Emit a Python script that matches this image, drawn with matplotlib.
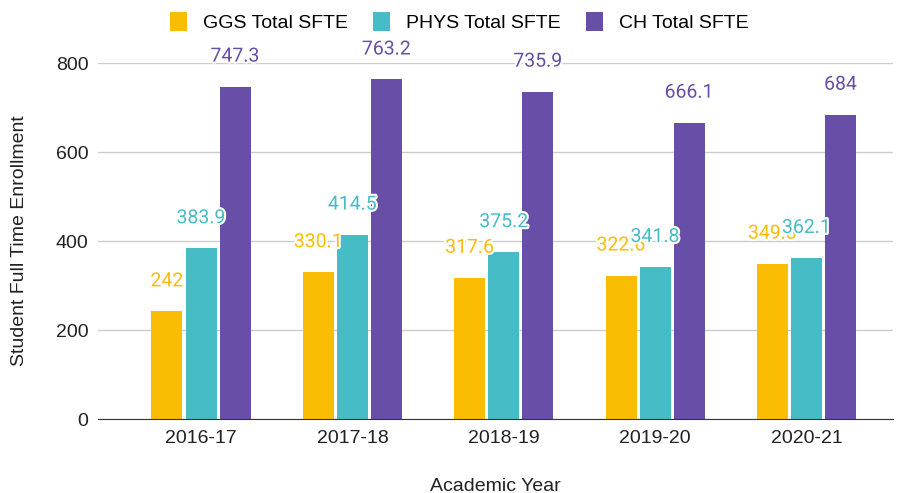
import numpy as np
import matplotlib
matplotlib.use("Agg")
import matplotlib.pyplot as plt
import matplotlib.patheffects as pe

# data
years = ["2016-17", "2017-18", "2018-19", "2019-20", "2020-21"]
ggs = [242, 330.1, 317.6, 322.6, 349.3]
phys = [383.9, 414.5, 375.2, 341.8, 362.1]
ch = [747.3, 763.2, 735.9, 666.1, 684]
series_names = ["GGS Total SFTE", "PHYS Total SFTE", "CH Total SFTE"]
colors = ["#FBBC04", "#46BDC6", "#674EA7"]

plt.rcParams['font.family'] = ['Liberation Sans', 'DejaVu Sans']

fig = plt.figure(figsize=(9, 4.93), dpi=100)
ax = fig.add_axes([0.109, 0.150, 0.883, 0.722])

x = np.arange(len(years))
width = 0.205
step = 0.225

for i, (vals, name, col) in enumerate(zip([ggs, phys, ch], series_names, colors)):
    pos = x + (i - 1) * step
    ax.bar(pos, vals, width=width, color=col, label=name, zorder=3)
    for px, v in zip(pos, vals):
        txt = f"{v:g}"
        ax.annotate(txt, xy=(px, v), xytext=(0, 30), textcoords='offset pixels',
                    ha='center', va='center', fontsize=14, color=col,
                    family=['Roboto', 'DejaVu Sans'], zorder=5,
                    path_effects=[pe.withStroke(linewidth=3, foreground='white')])

ax.set_ylim(0, 800)
ax.set_xlim(-0.68, 4.57)
ax.set_yticks([0, 200, 400, 600, 800])
ax.set_xticks(x)
ax.set_xticklabels(years)
ax.tick_params(axis='both', length=0, labelsize=14, colors='#222222')
ax.tick_params(axis='y', pad=7)
ax.tick_params(axis='x', pad=8)
ax.grid(axis='y', color='#cccccc', linewidth=1, zorder=0)
for s in ['top', 'right', 'left']:
    ax.spines[s].set_visible(False)
ax.spines['bottom'].set_color('#333333')
ax.spines['bottom'].set_zorder(4)

ax.set_xlabel("Academic Year", fontsize=14, color='#222222', labelpad=22)
ax.set_ylabel("Student Full Time Enrollment", fontsize=14, color='#222222', labelpad=20)

fig.legend(loc='center', bbox_to_anchor=(0.51, 1 - 22 / 493), ncol=3, frameon=False,
           fontsize=14, handlelength=0.9, handleheight=1.1, handletextpad=0.8,
           columnspacing=1.3)

fig.savefig("out.png", dpi=100)
